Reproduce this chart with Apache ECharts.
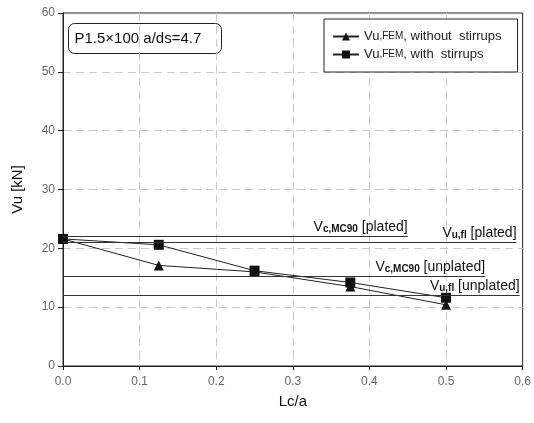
<!DOCTYPE html>
<html>
<head>
<meta charset="utf-8">
<script src="https://cdn.jsdelivr.net/npm/echarts@6/dist/echarts.min.js"></script>
<style>
  html, body { margin: 0; padding: 0; background: #fff; }
  #chart { width: 534px; height: 423px; }
</style>
</head>
<body>
<div id="chart"></div>
<script>
// Lc/a values and Vu [kN]
const lcRatio = [0, 0.125, 0.25, 0.375, 0.5];
const vuWithout = [21.6, 17.1, 16.0, 13.5, 10.4]; // triangles
const vuWith = [21.6, 20.6, 16.2, 14.2, 11.6]; // squares

// horizontal reference lines: value and where they stop
const refNames = ["c,MC90|[plated]", "u,fl|[plated]", "c,MC90|[unplated]", "u,fl|[unplated]"];
const refValues = [22.0, 21.0, 15.2, 12.0];
const refEnds = [0.45, 0.592, 0.551, 0.596];

const xTicks = [0, 0.1, 0.2, 0.3, 0.4, 0.5, 0.6];
const yTicks = [0, 10, 20, 30, 40, 50, 60];

const chart = echarts.init(document.getElementById("chart"));

const refLines = refValues.map((v, i) => {
  const parts = refNames[i].split("|");
  return [
    { coord: [0, v] },
    {
      coord: [refEnds[i], v],
      label: {
        show: true,
        position: "insideEndTop",
        distance: [0, 2],
        formatter: "{v|V}{s|" + parts[0] + "}{v| " + parts[1] + "}",
      },
    },
  ];
});

const richLegend = {
  v: { fontSize: 13, color: "#222", fontFamily: "Liberation Sans" },
  s: { fontSize: 10, color: "#222", fontFamily: "Liberation Sans" },
};

chart.setOption({
  animation: false,
  backgroundColor: "#fff",
  grid: { left: 63, right: 9, top: 13, bottom: 57, show: true, borderColor: "#222", borderWidth: 1 },
  legend: {
    left: 324,
    top: 19,
    orient: "vertical",
    backgroundColor: "#fff",
    borderColor: "#222",
    borderWidth: 1,
    padding: [11, 16, 11, 8],
    itemGap: 5,
    itemWidth: 26,
    itemHeight: 10,
    data: ["without", "with"],
    formatter: (name) =>
      name === "without"
        ? "{v|Vu}{s|,FEM}{v|, without  stirrups}"
        : "{v|Vu}{s|,FEM}{v|, with  stirrups}",
    textStyle: { rich: richLegend },
  },
  graphic: [
    {
      type: "group",
      left: 68,
      top: 23,
      children: [
        {
          type: "rect",
          shape: { x: 0, y: 0, width: 153, height: 30, r: 6 },
          style: { fill: "#fff", stroke: "#222", lineWidth: 1 },
        },
        {
          type: "text",
          style: {
            x: 6,
            y: 15,
            text: "P1.5×100 a/ds=4.7",
            fontSize: 15,
            fontFamily: "Liberation Sans",
            fill: "#111",
            verticalAlign: "middle",
          },
        },
      ],
    },
  ],
  xAxis: {
    type: "value",
    min: xTicks[0],
    max: xTicks[xTicks.length - 1],
    interval: 0.1,
    name: "Lc/a",
    nameLocation: "middle",
    nameGap: 28,
    nameTextStyle: { fontSize: 15, color: "#111", fontFamily: "Liberation Sans" },
    axisLine: { lineStyle: { color: "#222" } },
    axisTick: { show: true, length: 4, lineStyle: { color: "#222" } },
    axisLabel: { color: "#666", fontSize: 12, fontFamily: "Liberation Sans", margin: 10, formatter: (v) => v.toFixed(1) },
    splitLine: { show: true, showMinLine: false, showMaxLine: false, lineStyle: { color: "#c8c8c8", type: [8, 5] } },
  },
  yAxis: {
    type: "value",
    min: yTicks[0],
    max: yTicks[yTicks.length - 1],
    interval: 10,
    name: "Vu [kN]",
    nameLocation: "middle",
    nameGap: 38,
    nameTextStyle: { fontSize: 15, color: "#111", fontFamily: "Liberation Sans" },
    axisLine: { show: true, lineStyle: { color: "#222" } },
    axisTick: { show: true, length: 5, lineStyle: { color: "#222" } },
    axisLabel: { color: "#666", fontSize: 12, fontFamily: "Liberation Sans", margin: 8 },
    splitLine: { show: true, showMinLine: false, showMaxLine: false, lineStyle: { color: "#c8c8c8", type: [8, 5] } },
  },
  series: [
    {
      name: "without",
      type: "line",
      data: lcRatio.map((x, i) => [x, vuWithout[i]]),
      symbol: "triangle",
      symbolSize: 10,
      color: "#111",
      lineStyle: { color: "#222", width: 1 },
      itemStyle: { color: "#111" },
      z: 3,
    },
    {
      name: "with",
      type: "line",
      data: lcRatio.map((x, i) => [x, vuWith[i]]),
      symbol: "rect",
      symbolSize: 10,
      color: "#111",
      lineStyle: { color: "#222", width: 1 },
      itemStyle: { color: "#111" },
      z: 3,
      markLine: {
        silent: true,
        symbol: "none",
        lineStyle: { color: "#333", width: 1, type: "solid" },
        label: {
          color: "#111",
          rich: {
            v: { fontSize: 14, color: "#111", fontFamily: "Liberation Sans" },
            s: { fontSize: 10, color: "#111", fontFamily: "Liberation Sans", fontWeight: "bold", padding: [4, 0, 0, 0] },
          },
        },
        data: refLines,
      },
    },
  ],
});
</script>
</body>
</html>
